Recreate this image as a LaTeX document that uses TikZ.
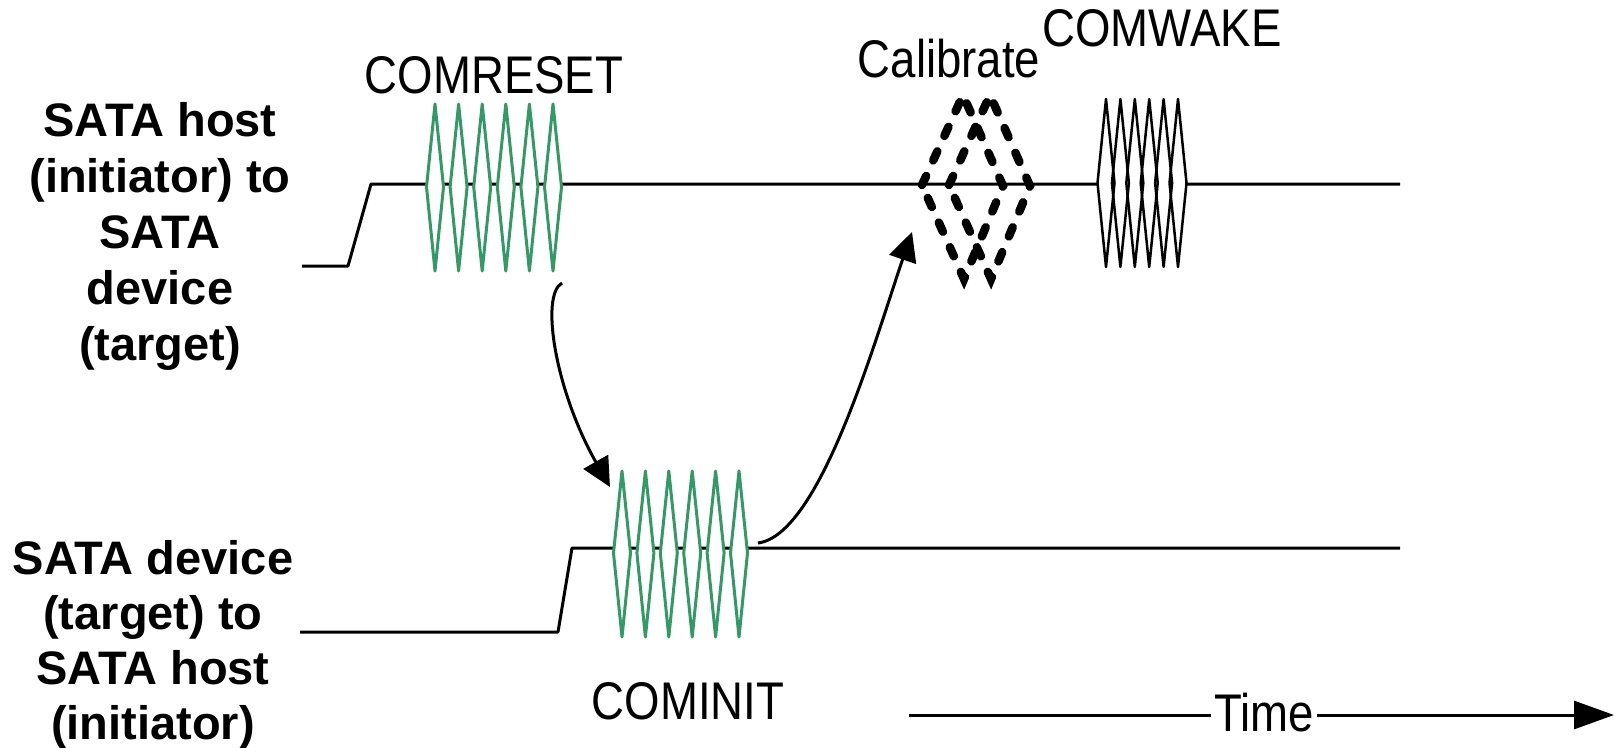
\documentclass[tikz,border=0pt]{standalone}
\usepackage{fontspec}
\setmainfont{Liberation Sans}
\newfontfamily\condfont[FakeStretch=0.86]{Liberation Sans}
\usetikzlibrary{arrows.meta}
\definecolor{burstgreen}{RGB}{51,153,102}

\begin{document}
\begin{tikzpicture}[x=1pt,y=-1pt,
  wire/.style={line width=3pt, line join=round},
  greenpulse/.style={draw=burstgreen, line width=3pt, fill=white, line join=round},
  wakepulse/.style={draw=black, line width=2.5pt, line join=round},
  calpulse/.style={draw=black, line width=8.5pt, line cap=round, dash pattern=on 10pt off 17pt},
  flow/.style={line width=3pt, -{Triangle[length=29pt,width=28pt]}},
  sidelabel/.style={align=center, font=\fontsize{47}{56}\selectfont\bfseries, inner sep=0pt},
  burstlabel/.style={font=\condfont\fontsize{53}{60}\selectfont, inner sep=0pt, anchor=base},
]
\useasboundingbox (0,0) rectangle (1614,747);

% ---- row labels
\node[sidelabel] (hostlbl) at (160,236) {SATA host\\(initiator) to\\SATA\\device\\(target)};
\node[sidelabel, font=\fontsize{47}{55}\selectfont\bfseries] (devlbl) at (153,645) {SATA device\\(target) to\\SATA host\\(initiator)};

% ---- host -> device line
\draw[wire] (302,266) -- (348,266) -- (371,184) -- (1400,184);

% COMRESET burst
\foreach \i in {0,...,5} {
  \pgfmathsetmacro{\cx}{435+23.6*\i}
  \draw[greenpulse] ({\cx-8.5},187) -- (\cx,104) -- ({\cx+8.5},187) -- (\cx,271) -- cycle;
}
\node[burstlabel] (comreset) at (494,93) {COMRESET};

% calibration pattern
\foreach \cx in {963,990} {
  \draw[calpulse] ({\cx-41},185) -- (\cx,95) -- ({\cx+40},186) -- ({\cx+1},279) -- cycle;
}
\node[burstlabel] (calib) at (949,77) {Calibrate};

% COMWAKE burst
\fill[white] (1097.5,183) -- (1106,99) -- (1178,99) -- (1186.5,183) -- (1178,267) -- (1106,267) -- cycle;
\foreach \i in {0,...,5} {
  \pgfmathsetmacro{\cx}{1106+14.4*\i}
  \draw[wakepulse] ({\cx-8.5},183) -- (\cx,99) -- ({\cx+8.5},183) -- (\cx,267) -- cycle;
}
\node[burstlabel] (comwake) at (1162,46) {COMWAKE};

% ---- device -> host line
\draw[wire] (300,632) -- (558,632) -- (572,548) -- (1400,548);

% COMINIT burst
\foreach \i in {0,...,5} {
  \pgfmathsetmacro{\cx}{622+23.4*\i}
  \draw[greenpulse] ({\cx-8.5},553) -- (\cx,471) -- ({\cx+8.5},553) -- (\cx,637) -- cycle;
}
\node[burstlabel] (cominit) at (688,719) {COMINIT};

% ---- handshake arrows
\coordinate (resetEnd) at (562,283);
\coordinate (initTop) at (610,487);
\coordinate (initEnd) at (758,543);
\coordinate (calTop) at (912,232);
\draw[flow] (resetEnd) .. controls (540,295) and (555,390) .. (initTop);
\draw[flow] (initEnd) .. controls (820,535) and (875,340) .. (calTop);

% ---- time axis
\coordinate (tstart) at (909,715);
\coordinate (tend) at (1614,715);
\node[font=\condfont\fontsize{53}{60}\selectfont, inner sep=3pt] (time) at (1264,713) {Time};
\draw[wire] (tstart) -- (tstart -| time.west);
\draw[wire, -{Triangle[length=40pt,width=28pt]}] (tend -| time.east) -- (tend);
\end{tikzpicture}
\end{document}
